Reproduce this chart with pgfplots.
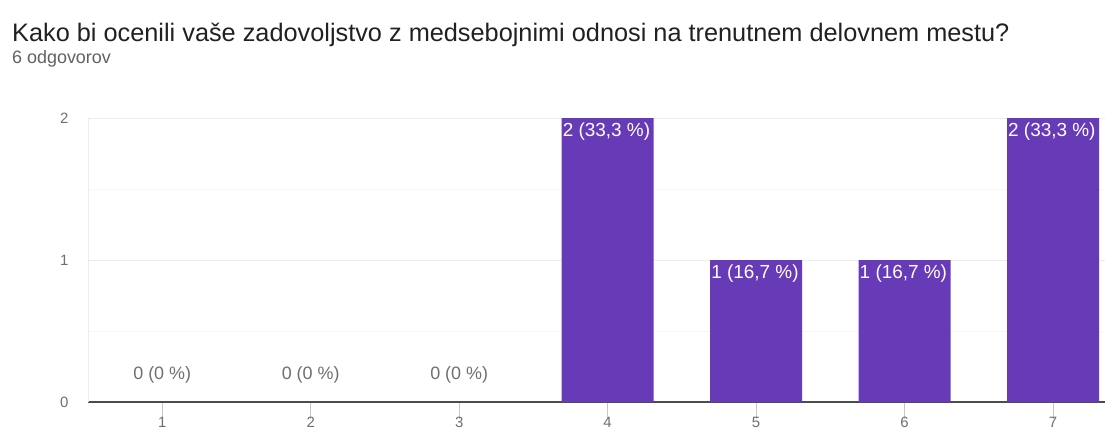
\documentclass[border=0pt]{standalone}
\usepackage{fontspec}
\setmainfont{Liberation Sans}
\usepackage{pgfplots}
\pgfplotsset{compat=1.18}
\definecolor{barpurple}{HTML}{673AB7}
\definecolor{titlegray}{HTML}{212121}
\definecolor{subgray}{HTML}{616161}
\definecolor{tickgray}{HTML}{6F6F6F}
\begin{document}
\begin{tikzpicture}
\path[use as bounding box] (0bp,0bp) rectangle (1105bp,-430bp);
\node[anchor=base west, font=\fontsize{25.4}{28}\selectfont, text=titlegray, inner sep=0] at (12bp,-41bp) {Kako bi ocenili vaše zadovoljstvo z medsebojnimi odnosi na trenutnem delovnem mestu?};
\node[anchor=base west, font=\fontsize{18}{20}\selectfont, text=subgray, inner sep=0] at (12bp,-63bp) {6 odgovorov};
\begin{axis}[
  at={(88bp,-402bp)}, anchor=south west,
  scale only axis, width=1017bp, height=284bp,
  xmin=0.5, xmax=7.35, ymin=0, ymax=2,
  xtick={1,2,3,4,5,6,7}, ytick={0,1,2}, minor ytick={0.5,1.5},
  ymajorgrids, yminorgrids,
  major grid style={draw=gray!15, line width=0.8bp},
  minor grid style={draw=gray!6, line width=0.8bp},
  axis lines=left,
  x axis line style={-, draw=black!70, line width=1.3bp},
  y axis line style={-, draw=gray!15},
  tick align=inside,
  major tick length=17bp,
  xtick style={draw=gray!45, line width=0.8bp},
  ytick style={draw=none},
  /pgf/number format/assume math mode=true,
  tick label style={font=\fontsize{15}{17}\selectfont, text=tickgray},
  xticklabel style={yshift=3bp, inner sep=1bp},
  yticklabel style={xshift=-16bp},
  ybar, bar width=92bp, bar shift=0pt,
  point meta=explicit symbolic,
  clip=false,
]
\addplot[fill=barpurple, draw=none,
  nodes near coords,
  every node near coord/.append style={anchor=north west, xshift=-46bp, yshift=-4bp,
    font=\fontsize{19}{21}\selectfont, text=white, inner sep=1bp}]
  coordinates {(4,2) [2 (33,3 \%)] (5,1) [1 (16,7 \%)] (6,1) [1 (16,7 \%)] (7,2) [2 (33,3 \%)]};
\addplot[fill=none, draw=none,
  nodes near coords,
  every node near coord/.append style={anchor=south, yshift=18bp,
    font=\fontsize{18}{20}\selectfont, text=tickgray, inner sep=1bp}]
  coordinates {(1,0) [0 (0 \%)] (2,0) [0 (0 \%)] (3,0) [0 (0 \%)]};
\end{axis}
\end{tikzpicture}
\end{document}
